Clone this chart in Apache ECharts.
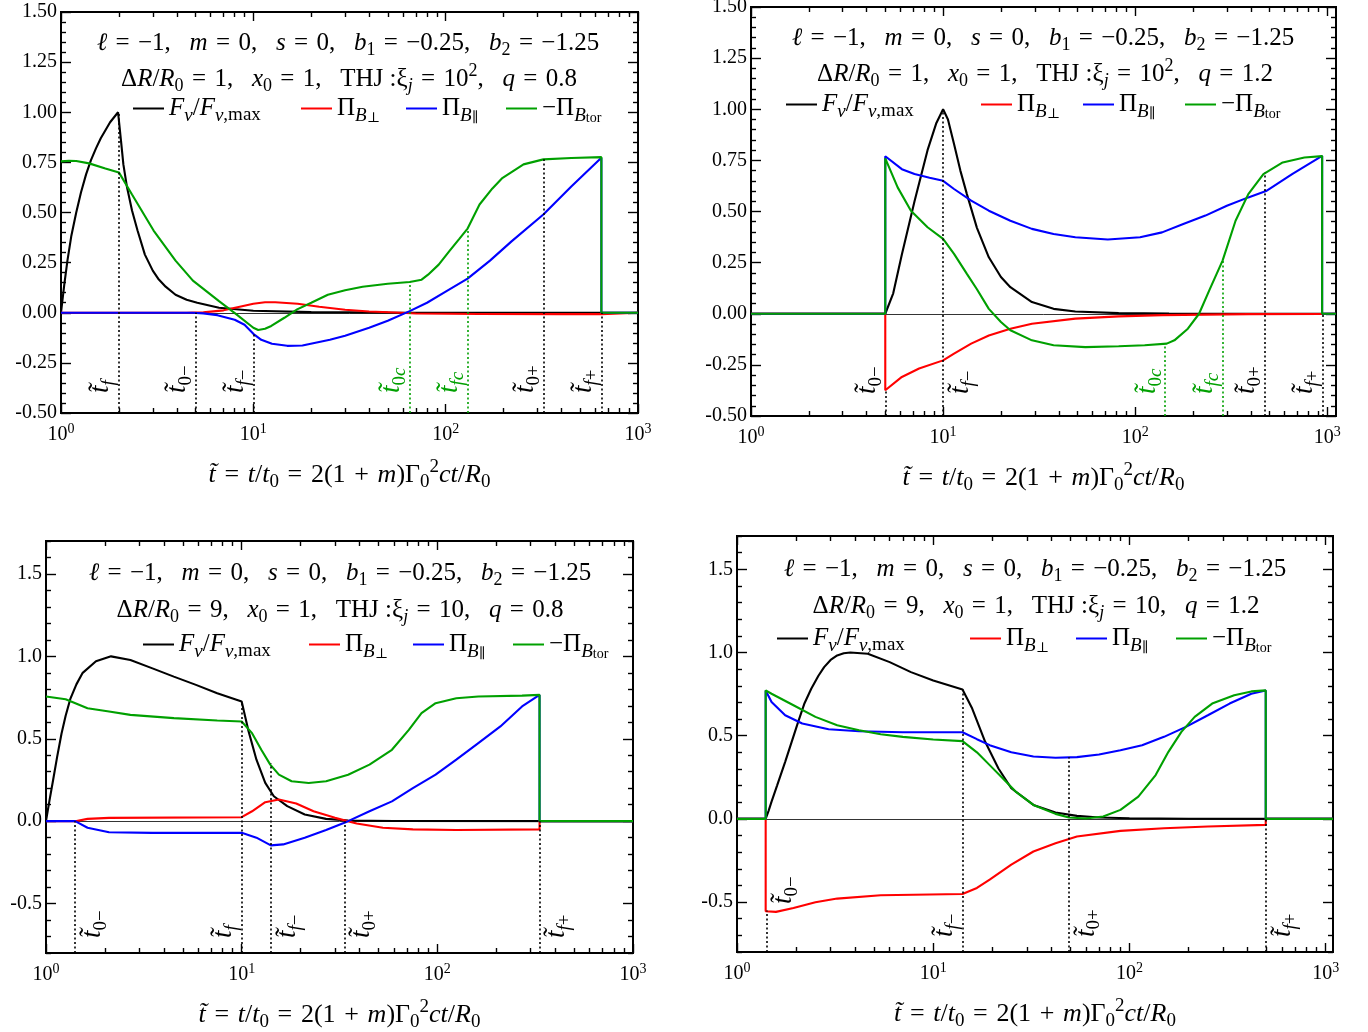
<!DOCTYPE html>
<html><head><meta charset="utf-8">
<script src="https://cdn.jsdelivr.net/npm/echarts@6/dist/echarts.min.js"></script>
<style>html,body{margin:0;padding:0;background:#fff}#c{width:1368px;height:1032px}</style>
</head><body><div id="c"></div>
<script>
// ---------------- DATA ----------------
const X_TICKS = [1, 10, 100, 1000];
// Panel 1 : dR/R0=1, xi_j=10^2, q=0.8
const F1 = [[1,0],[1.04,0.14],[1.08,0.26],[1.13,0.38],[1.2,0.5],[1.27,0.6],[1.35,0.69],[1.43,0.76],[1.52,0.82],[1.61,0.87],[1.8,0.95],[1.98,1.0],[2.05,0.86],[2.11,0.74],[2.2,0.63],[2.34,0.51],[2.5,0.41],[2.73,0.29],[3.0,0.21],[3.2,0.17],[3.5,0.13],[3.94,0.09],[4.5,0.065],[5.11,0.05],[6.63,0.025],[10,0.01],[20,0.003],[50,0.001],[645,0],[1000,0]];
const R1 = [[1,0],[4.5,0],[5.5,0.002],[7,0.012],[8.5,0.03],[10,0.045],[11.5,0.052],[13,0.052],[17,0.045],[22,0.03],[30,0.015],[40,0.006],[55,0.001],[70,-0.004],[150,-0.006],[400,-0.007],[645,-0.007],[645,0],[1000,0]];
const B1 = [[1,0],[4.8,0],[5.5,-0.003],[6.5,-0.012],[8,-0.035],[9,-0.06],[10,-0.105],[11,-0.135],[12.5,-0.155],[15,-0.165],[18,-0.163],[25,-0.135],[30,-0.115],[40,-0.075],[50,-0.04],[65,0.008],[80,0.05],[100,0.105],[130,0.17],[170,0.26],[220,0.356],[322,0.49],[450,0.63],[645,0.773],[645,0],[1000,0]];
const G1 = [[1,0.755],[1.1,0.758],[1.2,0.757],[1.4,0.745],[1.7,0.72],[2,0.70],[2.34,0.59],[3.03,0.41],[3.94,0.26],[4.85,0.16],[6.63,0.058],[8.17,-0.008],[10,-0.075],[10.6,-0.086],[11.5,-0.08],[12.4,-0.066],[14.5,-0.025],[16.9,0.017],[20,0.05],[24.4,0.09],[30,0.112],[37,0.13],[50,0.145],[65,0.153],[75,0.165],[81,0.19],[92,0.24],[105,0.31],[118,0.37],[130,0.42],[150,0.54],[175,0.62],[196,0.67],[254,0.74],[322,0.765],[450,0.772],[645,0.776],[645,0],[1000,0]];
const V1_X = [2, 5, 10, 65, 130, 322, 645];
const V1_TOP = [1.0, 0, -0.1, 0.153, 0.42, 0.765, 0];
const V1_NAME = ['f', '0−', 'f−', '0c', 'fc', '0+', 'f+'];

// Panel 2 : dR/R0=1, xi_j=10^2, q=1.2
const F2 = [[1,0],[5,0],[5.5,0.1],[6.1,0.29],[7.1,0.55],[8.3,0.8],[9.2,0.93],[10,1.0],[10.6,0.95],[11.4,0.83],[12.3,0.7],[13.3,0.585],[15,0.42],[17.3,0.276],[20,0.18],[22.4,0.13],[29,0.057],[37.6,0.024],[48.8,0.011],[82,0.003],[150,0.0005],[1110,0]];
const R2 = [[1,0],[5,0],[5,-0.374],[6.1,-0.309],[7.5,-0.268],[10,-0.228],[11.4,-0.195],[14,-0.146],[17.3,-0.106],[22.4,-0.073],[29,-0.049],[48.8,-0.024],[82,-0.013],[138,-0.0065],[388,-0.002],[940,-0.001],[940,0],[1110,0]];
const B2 = [[1,0],[5,0],[5,0.77],[6.1,0.707],[7.1,0.683],[8.5,0.665],[10,0.65],[11.4,0.61],[14,0.553],[17.3,0.504],[22.4,0.455],[29,0.415],[37.6,0.39],[48.8,0.374],[72,0.363],[106,0.374],[138,0.398],[178,0.439],[232,0.48],[300,0.528],[388,0.569],[480,0.60],[656,0.683],[940,0.772],[940,0],[1110,0]];
const G2 = [[1,0],[5,0],[5,0.76],[5.8,0.618],[6.8,0.504],[8.3,0.423],[10,0.366],[11.4,0.293],[13.3,0.195],[15,0.12],[17.3,0.024],[20,-0.04],[22.4,-0.081],[29,-0.13],[37.6,-0.154],[55,-0.163],[82,-0.159],[112,-0.154],[146,-0.146],[160,-0.13],[188,-0.073],[215,0],[243,0.114],[285,0.26],[333,0.455],[388,0.585],[465,0.683],[586,0.74],[760,0.764],[940,0.771],[940,0],[1110,0]];
const V2_X = [5, 10, 143, 286, 473, 945];
const V2_TOP = [-0.374, 1.0, -0.146, 0.26, 0.69, 0];
const V2_NAME = ['0−', 'f−', '0c', 'fc', '0+', 'f+'];

// Panel 3 : dR/R0=9, xi_j=10, q=0.8
const F3 = [[1,0],[1.04,0.12],[1.08,0.23],[1.14,0.39],[1.2,0.53],[1.26,0.64],[1.33,0.74],[1.43,0.83],[1.54,0.90],[1.8,0.97],[2.15,1.0],[2.7,0.978],[3.5,0.927],[4.5,0.877],[5.84,0.827],[7.5,0.776],[10,0.726],[10.8,0.554],[11.9,0.373],[13.2,0.232],[14.6,0.151],[17.1,0.091],[21,0.04],[27,0.014],[35,0.004],[60,0.001],[1000,0]];
const R3 = [[1,0],[1.41,0],[1.63,0.014],[2.1,0.02],[10,0.024],[11.3,0.06],[13.2,0.115],[15.5,0.131],[19,0.107],[23.3,0.06],[30,0.02],[38.7,-0.014],[52.7,-0.04],[75,-0.05],[125,-0.054],[333,-0.05],[333,0],[1000,0]];
const B3 = [[1,0],[1.41,0],[1.63,-0.04],[2.1,-0.067],[3.5,-0.071],[10,-0.071],[11.9,-0.10],[14.1,-0.147],[16.3,-0.141],[21,-0.10],[27,-0.054],[35,0],[45,0.06],[58.6,0.12],[75,0.2],[98,0.282],[125,0.373],[162,0.474],[210,0.575],[271,0.696],[333,0.766],[333,0],[1000,0]];
const G3 = [[1,0.756],[1.26,0.74],[1.63,0.685],[2.1,0.665],[2.7,0.645],[4.5,0.625],[7.5,0.611],[10,0.605],[11.3,0.534],[12.6,0.433],[14,0.343],[15.5,0.282],[18,0.242],[22,0.232],[27,0.242],[35,0.282],[45,0.343],[58.6,0.433],[71.5,0.554],[83,0.655],[98,0.716],[125,0.746],[162,0.756],[271,0.762],[333,0.766],[333,0],[1000,0]];
const V3_X = [1.41, 10, 14.1, 33.6, 333];
const V3_TOP = [0, 0.726, 0.35, 0, 0];
const V3_NAME = ['0−', 'f', 'f−', '0+', 'f+'];

// Panel 4 : dR/R0=9, xi_j=10, q=1.2
const F4 = [[1,0],[1.4,0],[1.45,0.05],[1.5,0.104],[1.6,0.2],[1.76,0.343],[2.05,0.583],[2.2,0.69],[2.39,0.782],[2.6,0.86],[2.78,0.912],[3.0,0.955],[3.24,0.982],[3.5,0.995],[3.78,1.0],[4.64,0.992],[6,0.942],[7.7,0.882],[10,0.832],[14.1,0.778],[15.8,0.663],[18.4,0.463],[21.5,0.303],[25,0.184],[32.4,0.084],[42,0.038],[54,0.018],[70,0.008],[100,0.004],[200,0.001],[1090,0]];
const R4 = [[1,0],[1.4,0],[1.4,-0.555],[1.58,-0.559],[1.94,-0.535],[2.51,-0.501],[3.24,-0.479],[5.4,-0.459],[14.1,-0.451],[16.7,-0.415],[19.4,-0.365],[25,-0.275],[32.4,-0.196],[42,-0.146],[54,-0.106],[90,-0.072],[150,-0.056],[251,-0.046],[495,-0.036],[495,0],[1090,0]];
const B4 = [[1,0],[1.4,0],[1.4,0.772],[1.5,0.703],[1.76,0.623],[2.15,0.573],[2.93,0.539],[4.19,0.527],[7,0.521],[14.1,0.521],[16.7,0.479],[19.4,0.443],[25,0.4],[32.4,0.375],[42,0.367],[54,0.371],[70,0.387],[90,0.413],[116,0.443],[150,0.493],[194,0.553],[251,0.623],[324,0.693],[418,0.752],[495,0.772],[495,0],[1090,0]];
const G4 = [[1,0],[1.4,0],[1.4,0.772],[1.5,0.752],[1.94,0.683],[2.51,0.613],[3.24,0.563],[4.19,0.533],[5.4,0.509],[7,0.493],[10,0.477],[14.1,0.467],[16.7,0.40],[19.4,0.323],[22.6,0.244],[26.3,0.164],[32.4,0.084],[42,0.03],[49.2,0.008],[60,0.002],[73.5,0.014],[90,0.054],[111,0.134],[136,0.263],[158,0.403],[184,0.523],[215,0.613],[264,0.693],[342,0.743],[418,0.766],[495,0.772],[495,0],[1090,0]];
const V4_X = [1.41, 14.1, 49.2, 496];
const V4_TOP = [-0.55, 0.778, 0.37, 0];
const V4_NAME = ['0−', 'f−', '0+', 'f+'];

const E = '\u2004'; // three-per-em space (math spacing around relations)
const EQ = '{r|' + E + '=' + E + '}';
const TITLE1 = '{i|ℓ}' + EQ + '{r|−1,   }{i|m}' + EQ + '{r|0,   }{i|s}' + EQ + '{r|0,   }{i|b}{s|1}' + EQ + '{r|−0.25,   }{i|b}{s|2}' + EQ + '{r|−1.25}';
function title2(dr, xi, q) {
  return '{r|Δ}{i|R}{r|/}{i|R}{s|0}' + EQ + '{r|' + dr + ',   }{i|x}{s|0}' + EQ + '{r|1,   THJ :ξ}{si|j}' + EQ + xi + '{r|,   }{i|q}' + EQ + '{r|' + q + '}';
}
const TITLE2 = [
  title2('1', '{r|10}{p|2}', '0.8'),
  title2('1', '{r|10}{p|2}', '1.2'),
  title2('9', '{r|10}', '0.8'),
  title2('9', '{r|10}', '1.2')
];
const XNAME = '{i|t̃}' + EQ + '{i|t}{r|/}{i|t}{s|0}' + EQ + '{r|2(1' + E + '+' + E + '}{i|m}{r|)Γ}{s|0}{p|2}{i|ct}{r|/}{i|R}{s|0}';
const LEGEND_TEXT = {
  F: '{i|F}{si|ν}{r|/}{i|F}{si|ν}{s|,max}',
  perp: '{r|Π}{si|B}{ss|⊥}',
  par: '{r|Π}{si|B}{ss|∥}',
  tor: '{r|−Π}{si|B}{ss|tor}'
};

// ---------------- STYLE / LAYOUT ----------------
const FONT = '"Liberation Serif","DejaVu Serif",serif';
const COL = {F: '#000000', perp: '#ff0000', par: '#0000ff', tor: '#00a000'};
const KEYS = ['F', 'perp', 'par', 'tor'];

function rich(fs, withColor, subF) {
  subF = subF || 0.72;
  const lh = Math.round(fs * 1.3);
  const c = withColor ? {color: '#000'} : {};
  const sf = Math.round(fs * subF), sl = Math.round(fs * 0.74);
  return {
    r: Object.assign({fontFamily: FONT, fontSize: fs, lineHeight: lh, verticalAlign: 'middle'}, c),
    i: Object.assign({fontFamily: FONT, fontSize: fs, fontStyle: 'italic', lineHeight: lh, verticalAlign: 'middle'}, c),
    s: Object.assign({fontFamily: FONT, fontSize: sf, lineHeight: sl, verticalAlign: 'bottom'}, c),
    si: Object.assign({fontFamily: FONT, fontSize: sf, fontStyle: 'italic', lineHeight: sl, verticalAlign: 'bottom'}, c),
    ss: Object.assign({fontFamily: FONT, fontSize: Math.round(fs * 0.58), lineHeight: Math.round(fs * 0.45), verticalAlign: 'bottom'}, c),
    p: Object.assign({fontFamily: FONT, fontSize: sf, lineHeight: sl, verticalAlign: 'top'}, c)
  };
}

const PANELS = [
  {grid: [61, 12, 577, 401], xmax: 1000, ymin: -0.5, ymax: 1.5, yMajorStep: 0.25, yMinorStep: 0.05, dec: 2,
   data: {F: F1, perp: R1, par: B1, tor: G1}, vx: V1_X, vtop: V1_TOP, vname: V1_NAME,
   vcolor: ['k','k','k','g','g','k','k'], vside: ['L','L','L','L','L','L','L'], vdist: [20,20,20,20,20,20,20],
   t1: [348, 43], t2: [349, 79], leg: [[133, 112], [301, 112], [406, 112], [506, 112]]},
  {grid: [751, 7, 585, 409], xmax: 1110, ymin: -0.5, ymax: 1.5, yMajorStep: 0.25, yMinorStep: 0.05, dec: 2,
   data: {F: F2, perp: R2, par: B2, tor: G2}, vx: V2_X, vtop: V2_TOP, vname: V2_NAME,
   vcolor: ['k','k','g','g','k','k'], vside: ['L','R','L','L','L','L'], vdist: [22,22,22,22,22,22],
   t1: [1043, 38], t2: [1045, 74], leg: [[786, 108], [981, 108], [1083, 108], [1185, 108]]},
  {grid: [46, 541, 587, 412], xmax: 1000, ymin: -0.8, ymax: 1.7, yMajorStep: 0.5, yMinorStep: 0.1, dec: 1,
   data: {F: F3, perp: R3, par: B3, tor: G3}, vx: V3_X, vtop: V3_TOP, vname: V3_NAME,
   vcolor: ['k','k','k','k','k'], vside: ['R','L','R','R','R'], vdist: [15,15,15,15,15],
   t1: [340, 573], t2: [340, 610], leg: [[143, 648], [309, 648], [413, 648], [513, 648]]},
  {grid: [737, 536, 596, 416], xmax: 1090, ymin: -0.8, ymax: 1.7, yMajorStep: 0.5, yMinorStep: 0.1, dec: 1,
   data: {F: F4, perp: R4, par: B4, tor: G4}, vx: V4_X, vtop: V4_TOP, vname: V4_NAME,
   vcolor: ['k','k','k','k'], vside: ['R','L','R','R'], vdist: [48,15,15,15],
   t1: [1035, 569], t2: [1036, 606], leg: [[777, 642], [970, 642], [1076, 642], [1176, 642]]}
];

function range(a, b, step) {
  const out = [];
  const n = Math.round((b - a) / step);
  for (let k = 0; k <= n; k++) out.push(+(a + k * step).toFixed(6));
  return out;
}
const X_MINOR = [];
for (let e = 0; e < 3; e++) for (let m = 2; m <= 9; m++) X_MINOR.push(m * Math.pow(10, e));

const grids = [], xAxes = [], yAxes = [], series = [], legends = [], graphics = [];
const TICK_COLOR = '#000';
const TW = 1.4;

PANELS.forEach((P, p) => {
  const [gl, gt, gw, gh] = P.grid;
  grids.push({left: gl, top: gt, width: gw, height: gh, show: true, borderColor: '#000', borderWidth: 2,
              containLabel: false, outerBoundsMode: 'none'});
  const yMajor = range(Math.ceil(P.ymin / P.yMajorStep - 1e-9) * P.yMajorStep, P.ymax, P.yMajorStep);
  const yMinor = range(P.ymin, P.ymax, P.yMinorStep).filter(v => !yMajor.some(m => Math.abs(m - v) < 1e-6));
  const xMinor = X_MINOR.filter(v => v < P.xmax);
  const baseX = {type: 'log', logBase: 10, gridIndex: p, min: 1, max: P.xmax, axisLine: {show: false, onZero: false}, splitLine: {show: false}, minorTick: {show: false}};
  const baseY = {type: 'value', gridIndex: p, min: P.ymin, max: P.ymax, axisLine: {show: false, onZero: false}, splitLine: {show: false}, minorTick: {show: false}};
  xAxes.push(Object.assign({}, baseX, {
    position: 'bottom',
    axisTick: {show: true, inside: true, length: 9, customValues: X_TICKS, lineStyle: {color: TICK_COLOR, width: TW}},
    axisLabel: {show: true, customValues: X_TICKS, margin: 9, color: '#000',
      formatter: v => '{b|10}{p|' + Math.round(Math.log10(v)) + '}',
      rich: {b: {fontFamily: FONT, fontSize: 20, lineHeight: 26, verticalAlign: 'middle', color: '#000'},
             p: {fontFamily: FONT, fontSize: 14, lineHeight: 15, verticalAlign: 'top', color: '#000'}}},
    name: XNAME, nameLocation: 'middle', nameGap: 45,
    nameTextStyle: {fontFamily: FONT, fontSize: 26, color: '#000', rich: rich(26, true)}
  }));
  xAxes.push(Object.assign({}, baseX, {position: 'bottom', axisLabel: {show: false},
    axisTick: {show: true, inside: true, length: 5, customValues: xMinor, lineStyle: {color: TICK_COLOR, width: TW}}}));
  xAxes.push(Object.assign({}, baseX, {position: 'top', axisLabel: {show: false},
    axisTick: {show: true, inside: true, length: 9, customValues: X_TICKS, lineStyle: {color: TICK_COLOR, width: TW}}}));
  xAxes.push(Object.assign({}, baseX, {position: 'top', axisLabel: {show: false},
    axisTick: {show: true, inside: true, length: 5, customValues: xMinor, lineStyle: {color: TICK_COLOR, width: TW}}}));
  yAxes.push(Object.assign({}, baseY, {position: 'left',
    axisTick: {show: true, inside: true, length: 10, customValues: yMajor, lineStyle: {color: TICK_COLOR, width: TW}},
    axisLabel: {show: true, customValues: yMajor, margin: 4, color: '#000', fontFamily: FONT, fontSize: 20,
      formatter: v => v.toFixed(P.dec)}}));
  yAxes.push(Object.assign({}, baseY, {position: 'left', axisLabel: {show: false},
    axisTick: {show: true, inside: true, length: 5, customValues: yMinor, lineStyle: {color: TICK_COLOR, width: TW}}}));
  yAxes.push(Object.assign({}, baseY, {position: 'right', axisLabel: {show: false},
    axisTick: {show: true, inside: true, length: 10, customValues: yMajor, lineStyle: {color: TICK_COLOR, width: TW}}}));
  yAxes.push(Object.assign({}, baseY, {position: 'right', axisLabel: {show: false},
    axisTick: {show: true, inside: true, length: 5, customValues: yMinor, lineStyle: {color: TICK_COLOR, width: TW}}}));

  const vlRich = rich(27, false, 0.7);
  const vlData = P.vx.map((x, k) => {
    const nm = P.vname[k];
    const sub = nm.split('').map(ch => /[a-z]/.test(ch) ? '{si|' + ch + '}' : '{s|' + ch + '}').join('');
    const col = P.vcolor[k] === 'g' ? COL.tor : '#000';
    return [{coord: [x, P.ymin], lineStyle: {color: col},
             label: {show: true, formatter: '{i|t̃}' + sub, color: col,
                     position: P.vside[k] === 'L' ? 'insideStartTop' : 'insideStartBottom',
                     distance: [P.vdist[k], 0], rich: vlRich}},
            {coord: [x, P.vtop[k]]}];
  });

  KEYS.forEach((key, j) => {
    const s = {type: 'line', name: key, xAxisIndex: p * 4, yAxisIndex: p * 4, data: P.data[key],
      symbol: 'none', showSymbol: false, smooth: false, silent: true, z: 2 + j,
      lineStyle: {color: COL[key], width: 2.1}, itemStyle: {color: COL[key]}};
    if (key === 'F') {
      s.markLine = {silent: true, symbol: ['none', 'none'], z: 1, animation: false, label: {show: false},
        lineStyle: {color: '#000', width: 0.8, type: 'solid'}, data: [{yAxis: 0}]};
    }
    if (key === 'tor') {
      s.markLine = {silent: true, symbol: ['none', 'none'], z: 8, animation: false,
        lineStyle: {width: 1.6, type: [2, 2.5]}, label: {show: true, fontFamily: FONT, fontSize: 27},
        data: vlData};
    }
    series.push(s);
  });

  KEYS.forEach((key, j) => {
    legends.push({data: [key], left: P.leg[j][0], top: P.leg[j][1] - 16, padding: 0, itemGap: 0,
      icon: 'rect', itemWidth: 31, itemHeight: 2, selectedMode: false,
      formatter: n => LEGEND_TEXT[n],
      textStyle: {fontFamily: FONT, fontSize: 25, padding: [0, 0, 0, 0], rich: rich(25, true, 0.74)}});
  });

  [[TITLE1, P.t1], [TITLE2[p], P.t2]].forEach(([txt, pos]) => {
    graphics.push({type: 'text', x: pos[0], y: pos[1], silent: true, z: 20,
      style: {text: txt, rich: rich(25, true), fontFamily: FONT, fontSize: 25, fill: '#000',
              align: 'center', verticalAlign: 'middle', textAlign: 'center', textVerticalAlign: 'middle'}});
  });
});

const chart = echarts.init(document.getElementById('c'), null, {renderer: 'canvas'});
chart.setOption({
  animation: false,
  backgroundColor: '#fff',
  textStyle: {fontFamily: FONT},
  grid: grids, xAxis: xAxes, yAxis: yAxes, series: series, legend: legends, graphic: graphics
});
</script></body></html>
